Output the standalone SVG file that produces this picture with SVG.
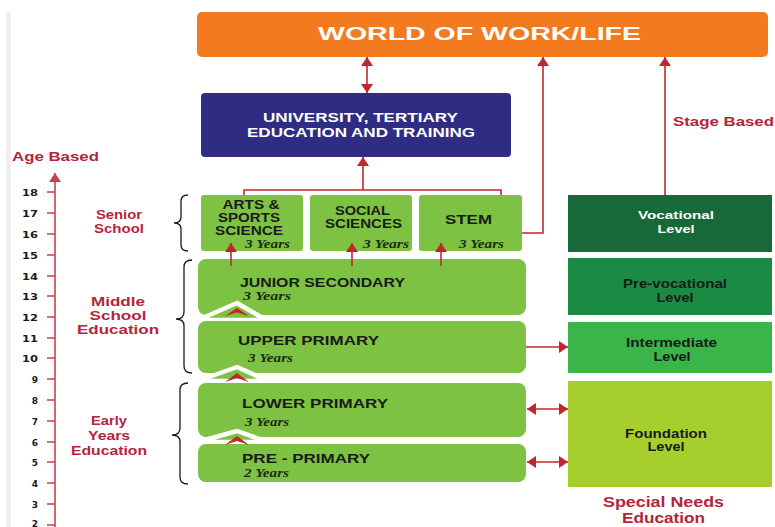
<svg xmlns="http://www.w3.org/2000/svg" width="775" height="527" viewBox="0 0 775 527">
  <style>
    .sans { font-family: "Liberation Sans", Arial, sans-serif; font-weight: bold; }
    .yrs { font-family: "Liberation Serif", "Times New Roman", serif; font-weight: bold; font-style: italic; fill: #1e2a14; font-size: 11.5px; }
    .stage { fill: #7dc242; }
    .lbl { fill: #1a1a1a; font-size: 12px; }
    .red { fill: #b5243b; }
    .line { stroke: #c0272d; stroke-width: 1.6; fill: none; }
    .axis { stroke: #c8404f; stroke-width: 1.6; fill: none; }
    .brace { stroke: #1a1a1a; stroke-width: 1.3; fill: none; }
    .age { font-family: "DejaVu Sans", sans-serif; font-weight: bold; font-size: 9px; fill: #1a1a1a; }
  </style>
  <defs>
    <marker id="ah" viewBox="0 0 9 12" markerWidth="9" markerHeight="12" refX="9" refY="6" orient="auto-start-reverse" markerUnits="userSpaceOnUse">
      <path d="M0,0 L9,6 L0,12 z" fill="#c0272d"/>
    </marker>
    <marker id="ahAxis" viewBox="0 0 9 12" markerWidth="9" markerHeight="13" refX="9" refY="6" orient="auto" markerUnits="userSpaceOnUse">
      <path d="M0,0 L9,6 L0,12 z" fill="#c8404f"/>
    </marker>
  </defs>

  <rect width="775" height="527" fill="#ffffff"/>
  <rect x="6" y="12" width="5" height="515" fill="#efefef"/>

  <!-- age axis -->
  <g id="age-axis">
    <text class="sans red" x="12" y="161" font-size="13" textLength="87" lengthAdjust="spacingAndGlyphs">Age Based</text>
    <line class="axis" x1="55" y1="527" x2="55" y2="173" marker-end="url(#ahAxis)"/>
    <g class="axis">
      <path d="M47,192H55 M47,213H55 M47,234H55 M47,255H55 M47,276H55 M47,296H55 M47,317H55 M47,338H55 M47,358H55 M47,379H55 M47,400H55 M47,421H55 M47,442H55 M47,462H55 M47,483H55 M47,504H55 M47,525H55"/>
    </g>
    <g class="age" text-anchor="end">
      <text x="38" y="196" textLength="16" lengthAdjust="spacingAndGlyphs">18</text>
      <text x="38" y="217" textLength="16" lengthAdjust="spacingAndGlyphs">17</text>
      <text x="38" y="238" textLength="16" lengthAdjust="spacingAndGlyphs">16</text>
      <text x="38" y="259" textLength="16" lengthAdjust="spacingAndGlyphs">15</text>
      <text x="38" y="280" textLength="16" lengthAdjust="spacingAndGlyphs">14</text>
      <text x="38" y="300" textLength="16" lengthAdjust="spacingAndGlyphs">13</text>
      <text x="38" y="321" textLength="16" lengthAdjust="spacingAndGlyphs">12</text>
      <text x="38" y="342" textLength="16" lengthAdjust="spacingAndGlyphs">11</text>
      <text x="38" y="362" textLength="16" lengthAdjust="spacingAndGlyphs">10</text>
      <text x="38" y="383">9</text>
      <text x="38" y="404">8</text>
      <text x="38" y="425">7</text>
      <text x="38" y="446">6</text>
      <text x="38" y="466">5</text>
      <text x="38" y="487">4</text>
      <text x="38" y="508">3</text>
      <text x="38" y="527">2</text>
    </g>
  </g>

  <!-- level labels and braces -->
  <g id="senior-label">
    <text class="sans red" font-size="13" text-anchor="middle"><tspan x="119" y="219" textLength="46" lengthAdjust="spacingAndGlyphs">Senior</tspan><tspan x="119" y="233" textLength="50" lengthAdjust="spacingAndGlyphs">School</tspan></text>
    <path class="brace" d="M188,195 Q181,195 181,201 V217 Q181,223 174,223 Q181,223 181,229 V245 Q181,251 188,251"/>
  </g>
  <g id="middle-label">
    <text class="sans red" font-size="13" text-anchor="middle"><tspan x="118" y="306" textLength="54" lengthAdjust="spacingAndGlyphs">Middle</tspan><tspan x="118" y="320" textLength="57" lengthAdjust="spacingAndGlyphs">School</tspan><tspan x="118" y="334" textLength="82" lengthAdjust="spacingAndGlyphs">Education</tspan></text>
    <path class="brace" d="M192,260 Q184,260 184,267 V312 Q184,319 176,319 Q184,319 184,326 V366 Q184,373 192,373"/>
  </g>
  <g id="early-label">
    <text class="sans red" font-size="13" text-anchor="middle"><tspan x="109" y="425" textLength="36" lengthAdjust="spacingAndGlyphs">Early</tspan><tspan x="109" y="440" textLength="42" lengthAdjust="spacingAndGlyphs">Years</tspan><tspan x="109" y="455" textLength="76" lengthAdjust="spacingAndGlyphs">Education</tspan></text>
    <path class="brace" d="M188,383 Q180,383 180,390 V428 Q180,435 172,435 Q180,435 180,442 V477 Q180,484 188,484"/>
  </g>

  <!-- top destination -->
  <g id="world-of-work">
    <rect x="197" y="12" width="571" height="45" rx="5" fill="#f47a20"/>
    <text class="sans" x="479.5" y="40" font-size="19" fill="#ffffff" text-anchor="middle" textLength="323" lengthAdjust="spacingAndGlyphs">WORLD OF WORK/LIFE</text>
  </g>

  <g id="university">
    <rect x="201" y="93" width="310" height="64" rx="4" fill="#2e2d83"/>
    <text class="sans" font-size="13.5" fill="#ffffff" text-anchor="middle"><tspan x="360.5" y="122" textLength="195" lengthAdjust="spacingAndGlyphs">UNIVERSITY, TERTIARY</tspan><tspan x="361" y="137" textLength="228" lengthAdjust="spacingAndGlyphs">EDUCATION AND TRAINING</tspan></text>
  </g>

  <!-- senior school pathways -->
  <g id="arts-sports">
    <rect class="stage" x="201" y="195" width="102" height="56" rx="3"/>
    <text class="sans lbl" text-anchor="middle"><tspan x="251" y="209" textLength="57" lengthAdjust="spacingAndGlyphs">ARTS &amp;</tspan><tspan x="249" y="222" textLength="62" lengthAdjust="spacingAndGlyphs">SPORTS</tspan><tspan x="249" y="235" textLength="68" lengthAdjust="spacingAndGlyphs">SCIENCE</tspan></text>
    <text class="yrs" x="245" y="248" textLength="45" lengthAdjust="spacingAndGlyphs">3 Years</text>
  </g>
  <g id="social-sciences">
    <rect class="stage" x="310" y="195" width="102" height="56" rx="3"/>
    <text class="sans lbl" text-anchor="middle"><tspan x="362.5" y="215" textLength="55" lengthAdjust="spacingAndGlyphs">SOCIAL</tspan><tspan x="363.5" y="228" textLength="77" lengthAdjust="spacingAndGlyphs">SCIENCES</tspan></text>
    <text class="yrs" x="363" y="248" textLength="46" lengthAdjust="spacingAndGlyphs">3 Years</text>
  </g>
  <g id="stem">
    <rect class="stage" x="419" y="195" width="103" height="56" rx="3"/>
    <text class="sans lbl" x="468.5" y="224" font-size="13" text-anchor="middle" textLength="47" lengthAdjust="spacingAndGlyphs">STEM</text>
    <text class="yrs" x="459" y="248" textLength="45" lengthAdjust="spacingAndGlyphs">3 Years</text>
  </g>

  <!-- basic education stages -->
  <g id="junior-secondary">
    <rect class="stage" x="198" y="259" width="328" height="56" rx="8"/>
    <text class="sans lbl" x="240" y="287" font-size="13" textLength="165" lengthAdjust="spacingAndGlyphs">JUNIOR SECONDARY</text>
    <text class="yrs" x="243" y="299.5" textLength="48" lengthAdjust="spacingAndGlyphs">3 Years</text>
  </g>
  <g id="upper-primary">
    <polygon class="stage" points="198,320 237,303 266,320" stroke="#ffffff" stroke-width="4.5" stroke-linejoin="round"/>
    <rect class="stage" x="198" y="321" width="328" height="52" rx="8"/>
    <text class="sans lbl" x="238" y="345" font-size="13" textLength="141" lengthAdjust="spacingAndGlyphs">UPPER PRIMARY</text>
    <text class="yrs" x="248" y="362" textLength="45" lengthAdjust="spacingAndGlyphs">3 Years</text>
  </g>
  <g id="lower-primary">
    <polygon class="stage" points="198,381 237,367 268,381" stroke="#ffffff" stroke-width="4.5" stroke-linejoin="round"/>
    <rect class="stage" x="198" y="383" width="328" height="54" rx="8"/>
    <text class="sans lbl" x="242" y="408" font-size="13" textLength="146" lengthAdjust="spacingAndGlyphs">LOWER PRIMARY</text>
    <text class="yrs" x="245" y="426" textLength="44" lengthAdjust="spacingAndGlyphs">3 Years</text>
  </g>
  <g id="pre-primary">
    <polygon class="stage" points="198,442 237,431 268,442" stroke="#ffffff" stroke-width="4.5" stroke-linejoin="round"/>
    <rect class="stage" x="198" y="444" width="328" height="38" rx="8"/>
    <text class="sans lbl" x="242" y="463" font-size="13" textLength="128" lengthAdjust="spacingAndGlyphs">PRE - PRIMARY</text>
    <text class="yrs" x="244" y="477" textLength="45" lengthAdjust="spacingAndGlyphs">2 Years</text>
  </g>

  <!-- special needs levels -->
  <g id="vocational">
    <rect x="568" y="195" width="204" height="57" fill="#17693a"/>
    <text class="sans" font-size="11.5" fill="#ffffff" text-anchor="middle"><tspan x="676" y="219" textLength="76" lengthAdjust="spacingAndGlyphs">Vocational</tspan><tspan x="676" y="233" textLength="37" lengthAdjust="spacingAndGlyphs">Level</tspan></text>
  </g>
  <g id="pre-vocational">
    <rect x="568" y="258" width="204" height="57" fill="#1b8b43"/>
    <text class="sans lbl" text-anchor="middle"><tspan x="675" y="288" textLength="104" lengthAdjust="spacingAndGlyphs">Pre-vocational</tspan><tspan x="675" y="302" textLength="37" lengthAdjust="spacingAndGlyphs">Level</tspan></text>
  </g>
  <g id="intermediate">
    <rect x="568" y="322" width="204" height="51" fill="#39b54a"/>
    <text class="sans lbl" text-anchor="middle"><tspan x="671.5" y="347" textLength="91" lengthAdjust="spacingAndGlyphs">Intermediate</tspan><tspan x="672" y="361" textLength="37" lengthAdjust="spacingAndGlyphs">Level</tspan></text>
  </g>
  <g id="foundation">
    <rect x="568" y="381" width="204" height="106" fill="#a6cf2e"/>
    <text class="sans lbl" text-anchor="middle"><tspan x="666" y="438" textLength="82" lengthAdjust="spacingAndGlyphs">Foundation</tspan><tspan x="666" y="451" textLength="37" lengthAdjust="spacingAndGlyphs">Level</tspan></text>
  </g>
  <g id="special-needs-label">
    <text class="sans red" font-size="15" text-anchor="middle"><tspan x="663.5" y="507" textLength="121" lengthAdjust="spacingAndGlyphs">Special Needs</tspan><tspan x="663.5" y="523" textLength="83" lengthAdjust="spacingAndGlyphs">Education</tspan></text>
  </g>
  <g id="stage-label">
    <text class="sans red" x="673" y="126" font-size="13" textLength="101" lengthAdjust="spacingAndGlyphs">Stage Based</text>
  </g>

  <!-- connectors -->
  <g id="connectors">
    <line class="line" x1="367" y1="57" x2="367" y2="93" marker-start="url(#ah)" marker-end="url(#ah)"/>
    <path class="line" d="M244,195 V190 H501 V195"/>
    <line class="line" x1="363" y1="190" x2="363" y2="157" marker-end="url(#ah)"/>
    <path class="line" d="M522,233 H543 V57" marker-end="url(#ah)"/>
    <line class="line" x1="665" y1="195" x2="665" y2="57" marker-end="url(#ah)"/>
    <line class="line" x1="231" y1="266" x2="231" y2="243" marker-end="url(#ah)"/>
    <line class="line" x1="352" y1="266" x2="352" y2="243" marker-end="url(#ah)"/>
    <line class="line" x1="441" y1="266" x2="441" y2="243" marker-end="url(#ah)"/>
    <line class="line" x1="526" y1="347" x2="568" y2="347" marker-end="url(#ah)"/>
    <line class="line" x1="527" y1="409" x2="568" y2="409" marker-start="url(#ah)" marker-end="url(#ah)"/>
    <line class="line" x1="527" y1="462" x2="568" y2="462" marker-start="url(#ah)" marker-end="url(#ah)"/>
    <g fill="#c0272d">
      <polygon points="225,316 237,308 249,316 237,312.5"/>
      <polygon points="225,382 237,373 249,382 237,378"/>
      <polygon points="225,445 237,436 249,445 237,441"/>
    </g>
  </g>
</svg>
